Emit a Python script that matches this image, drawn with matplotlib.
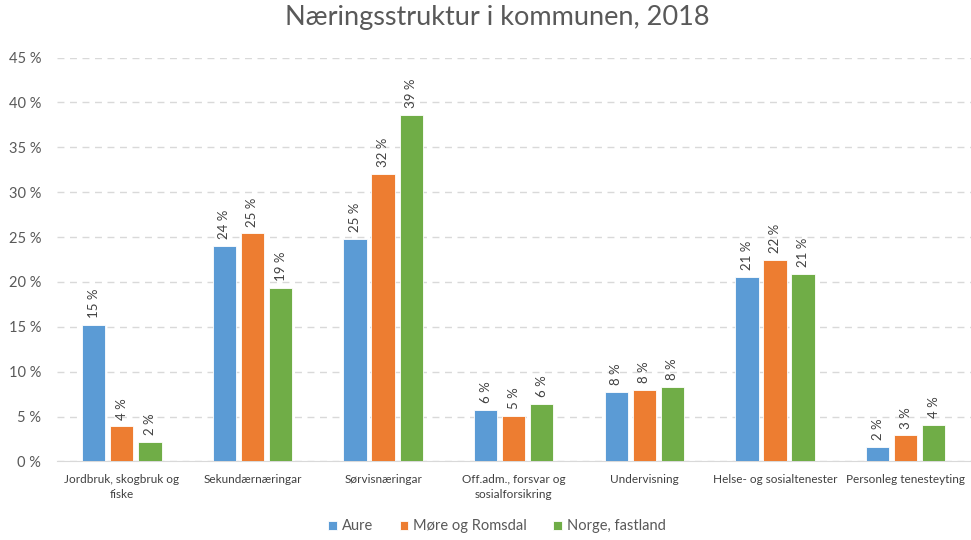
import matplotlib
matplotlib.use("Agg")
import matplotlib.pyplot as plt
import numpy as np

categories = ["Jordbruk, skogbruk og\nfiske", "Sekundærnæringar", "Sørvisnæringar",
              "Off.adm., forsvar og\nsosialforsikring", "Undervisning",
              "Helse- og sosialtenester", "Personleg tenesteyting"]
series_names = ["Aure", "Møre og Romsdal", "Norge, fastland"]
aure = [15.2, 24.0, 24.8, 5.7, 7.7, 20.6, 1.6]
more = [3.9, 25.4, 32.0, 5.1, 8.0, 22.4, 2.9]
norge = [2.2, 19.3, 38.6, 6.4, 8.3, 20.9, 4.1]
yticks = [0, 5, 10, 15, 20, 25, 30, 35, 40, 45]
colors = ["#5B9BD5", "#ED7D31", "#70AD47"]

plt.rcParams['font.family'] = ['Lato', 'DejaVu Sans']
fig = plt.figure(figsize=(9.71, 5.40), dpi=100)
ax = fig.add_axes([0.0582, 0.1454, 0.9418, 0.7481])

x = np.arange(len(categories))
width = 0.178
step = 0.215
for i, (vals, name, c) in enumerate(zip([aure, more, norge], series_names, colors)):
    pos = x + (i - 1) * step
    ax.bar(pos, vals, width, color=c, label=name, edgecolor="white", linewidth=0.6, zorder=3)
    for p, v in zip(pos, vals):
        ax.annotate(f"{round(v):d} %", (p, v), xytext=(0, 5), textcoords="offset points",
                    rotation=90, ha="center", va="bottom", fontsize=9.5, color="#404040")

ax.set_xlim(-0.5, len(categories) - 0.5)
ax.set_ylim(0, 45)
ax.set_yticks(yticks)
ax.set_yticklabels([f"{t} %" for t in yticks], fontsize=10.5, color="#595959")
ax.set_xticks(x)
ax.set_xticklabels(categories, fontsize=8.5, color="#404040", linespacing=1.5)
ax.tick_params(axis="both", length=0)
ax.tick_params(axis="x", pad=9)
ax.tick_params(axis="y", pad=11)
ax.yaxis.grid(True, color="#d9d9d9", linestyle=(0, (5, 4)), linewidth=1, zorder=0)
for s in ["top", "right", "left"]:
    ax.spines[s].set_visible(False)
ax.spines["bottom"].set_color("#d9d9d9")

fig.suptitle("Næringsstruktur i kommunen, 2018", x=0.512, y=0.99, fontsize=19.5, color="#595959")
fig.legend(loc="lower center", bbox_to_anchor=(0.512, -0.012), ncol=3, frameon=False,
           fontsize=10.5, handlelength=0.6, handleheight=0.6, handletextpad=0.35,
           columnspacing=1.8, labelcolor="#595959")

fig.savefig("out.png", dpi=100)
